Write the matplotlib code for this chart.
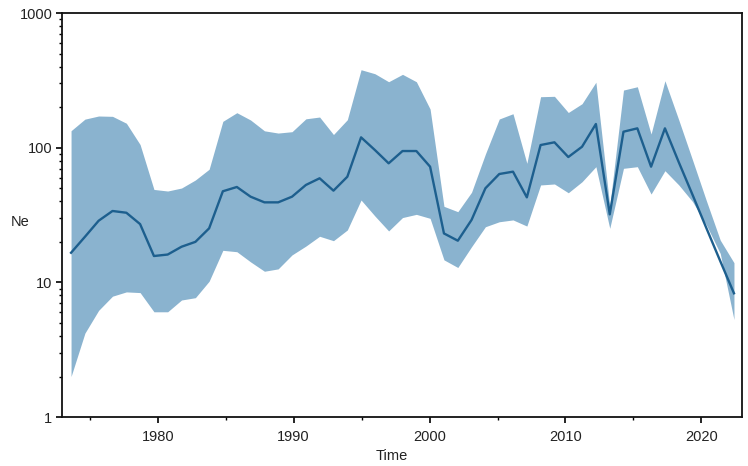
import matplotlib
matplotlib.use('agg')
import matplotlib.pyplot as plt
from matplotlib.ticker import MultipleLocator, LogLocator, NullFormatter

# skyline grid times (years)
time = [1973.62, 1974.64, 1975.65, 1976.67, 1977.69, 1978.70, 1979.72, 1980.73,
        1981.75, 1982.77, 1983.78, 1984.79, 1985.82, 1986.83, 1987.85, 1988.86,
        1989.88, 1990.90, 1991.91, 1992.93, 1993.95, 1994.96, 1995.98, 1996.99,
        1998.01, 1999.03, 2000.04, 2001.06, 2002.08, 2003.09, 2004.11, 2005.13,
        2006.14, 2007.16, 2008.17, 2009.19, 2010.21, 2011.22, 2012.24, 2013.26,
        2014.27, 2015.29, 2016.30, 2017.32, 2018.34, 2019.36, 2020.37, 2021.39,
        2022.40]

# median Ne
ne_median = [16.6, 21.8, 28.7, 33.9, 32.9, 27.1, 15.7, 16.1, 18.4, 20.0, 25.2,
             47.5, 51.1, 43.3, 39.3, 39.3, 43.3, 52.9, 59.3, 48.0, 60.9,
             119.4, 96.1, 76.6, 94.5, 94.5, 72.3, 23.1, 20.4, 29.1, 50.0,
             63.8, 66.4, 42.8, 104.7, 109.7, 85.3, 101.7, 150, 32.0, 131.5,
             139.3, 72.3, 139.3, 78.0, 44.5, 25.3, 14.4, 8.3]

# 95% HPD upper / lower
ne_upper = [133.7, 163, 172, 171, 152, 105.6, 49, 47.7, 50.2, 57.6, 69.2,
            157, 182, 160.6, 133.5, 128.5, 131.5, 163.9, 169, 125.3, 161.4,
            379.5, 354.3, 309, 350.6, 309, 193.8, 36.7, 33.5, 46.7, 89.8,
            163.4, 178.8, 76.6, 239.2, 240.8, 182.6, 212.2, 306.4, 37.0, 268,
            283.6, 126.4, 314.3, 160.6, 80.6, 40.4, 20.6, 14.0]

ne_lower = [2.0, 4.2, 6.2, 7.9, 8.5, 8.4, 6.05, 6.05, 7.4, 7.7, 10.2,
            17.3, 16.9, 14.2, 12.1, 12.6, 16.0, 18.6, 22.0, 20.4, 24.5,
            40.9, 31.1, 24.1, 30.3, 32.0, 29.9, 14.7, 12.9, 18.4, 25.9,
            28.2, 29.1, 26.2, 52.9, 53.8, 46.3, 55.9, 72.3, 25.2, 70.3,
            72.3, 45.3, 67.5, 52.9, 39.7, 26.7, 16.4, 5.3]

plt.rcParams['font.family'] = ['Liberation Sans', 'DejaVu Sans']

fig = plt.figure(figsize=(7.48, 4.66), dpi=100)
ax = fig.add_axes([0.083, 0.105, 0.9086, 0.867])

# HPD band and median line
ax.fill_between(time, ne_lower, ne_upper, color='#8ab3cf', linewidth=0)
ax.plot(time, ne_median, color='#1d5f8e', linewidth=1.7)

ax.set_yscale('log')
ax.set_ylim(1, 1000)
ax.set_xlim(1972.96, 2022.97)

ax.set_yticks([1, 10, 100, 1000])
ax.set_yticklabels(['1', '10', '100', '1000'])
ax.yaxis.set_minor_locator(LogLocator(base=10, subs=range(2, 10)))
ax.yaxis.set_minor_formatter(NullFormatter())

ax.set_xticks([1980, 1990, 2000, 2010, 2020])
ax.xaxis.set_minor_locator(MultipleLocator(5))

ax.tick_params(which='major', direction='out', length=4, width=1.2,
               labelsize=10.5, color='black', labelcolor='#222222', pad=3)
ax.tick_params(which='minor', direction='out', length=2.5, width=1.0)
ax.tick_params(axis='x', which='major', pad=5)

for spine in ax.spines.values():
    spine.set_linewidth(1.3)
    spine.set_color('#111111')

ax.set_xlabel('Time', fontsize=10.5, color='#222222')
ax.xaxis.set_label_coords(0.485, -0.08)
ax.set_ylabel('Ne', fontsize=10.5, rotation=0, color='#222222')
ax.yaxis.set_label_coords(-0.062, 0.465)

fig.savefig('out.png', dpi=100)
